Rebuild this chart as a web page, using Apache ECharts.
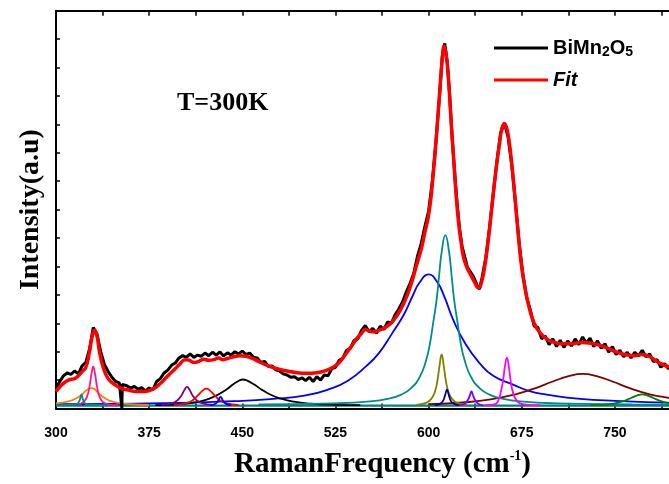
<!DOCTYPE html>
<html>
<head>
<meta charset="utf-8">
<title>Raman spectrum BiMn2O5</title>
<script src="https://cdn.jsdelivr.net/npm/echarts@6/dist/echarts.min.js"></script>
<style>
	html, body { margin: 0; padding: 0; background: #fff; overflow: hidden; }
	#ramanChart { width: 680px; height: 484px; }
</style>
</head>
<body>
<div id="ramanChart"></div>
<script>
// tick labels on the frequency axis
var xTicks = [300, 375, 450, 525, 600, 675, 750];

// measured spectrum (black)
var measured = [
	[300,0.70],[303,0.95],[306,1.15],[309,1.25],[312,1.20],[315,1.32],[318,1.22],[321,1.50],[324,1.62],[327,2.10],
	[330,2.85],[333,2.62],[336,2.00],[339,1.55],[342,1.30],[345,1.10],[348,0.95],[351,0.90],[352.6,0.88],[353,0.02],
	[353.4,0.85],[357,0.80],[360,0.72],[363,0.78],[366,0.68],[369,0.73],[372,0.62],[375,0.72],[378,0.66],[381,0.95],
	[384,1.05],[387,1.25],[390,1.35],[393,1.52],[396,1.60],[399,1.78],[402,1.86],[405,1.80],[408,1.92],[411,1.80],
	[414,1.88],[417,1.84],[420,1.95],[423,1.86],[426,1.98],[429,1.88],[432,1.99],[435,1.85],[438,1.96],[441,1.88],
	[444,2.00],[447,1.92],[450,2.02],[453,1.90],[456,1.95],[459,1.80],[462,1.78],[465,1.62],[468,1.66],[471,1.48],
	[474,1.50],[477,1.36],[480,1.32],[483,1.22],[486,1.18],[489,1.10],[492,1.12],[495,1.02],[498,1.08],[501,0.98],
	[504,1.10],[507,0.95],[510,1.12],[513,1.00],[516,1.18],[519,1.15],[522,1.40],[525,1.45],[528,1.70],[531,1.78],
	[534,2.05],[537,2.12],[540,2.40],[543,2.45],[546,2.75],[549,2.92],[552,2.70],[555,2.82],[558,2.65],[561,2.90],
	[564,2.78],[567,3.05],[570,3.00],[573,3.30],[576,3.50],[579,3.75],[582,4.10],[585,4.40],[588,4.75],[591,5.35],
	[594,5.80],[597,6.40],[600,6.95],[603,8.00],[606,9.45],[609,11.10],[611,12.40],[613,12.85],[615,12.20],[617,11.00],
	[619,9.50],[621,8.30],[623,7.20],[625,6.30],[627,5.70],[629,5.35],[630,5.20],[631,5.00],[633,4.85],[636,4.65],
	[639,4.35],[641,4.20],[643,4.60],[646,5.30],[649,6.35],[652,7.55],[655,8.70],[658,9.70],[661,10.05],[664,9.55],
	[667,8.55],[670,7.20],[673,5.80],[676,4.70],[679,3.90],[682,3.45],[685,2.90],[688,2.85],[691,2.45],[694,2.55],
	[697,2.25],[700,2.45],[703,2.18],[706,2.40],[709,2.15],[712,2.38],[715,2.20],[718,2.45],[721,2.25],[724,2.52],
	[727,2.30],[730,2.48],[733,2.18],[736,2.38],[739,2.12],[742,2.28],[745,1.98],[748,2.18],[751,1.90],[754,2.05],
	[757,1.82],[760,1.98],[763,1.78],[766,1.98],[769,1.85],[772,2.05],[775,1.82],[778,1.92],[781,1.65],[784,1.72],
	[787,1.45],[790,1.58],[793,1.40],[796,1.50]
];

// cumulative fit (red)
var fitCurve = [
	[300,0.60],[305,0.85],[310,1.00],[315,1.05],[318,1.15],[321,1.30],[324,1.45],[327,2.00],[329,2.50],[331,2.75],
	[333,2.55],[335,2.00],[338,1.45],[342,1.05],[347,0.85],[352,0.72],[358,0.65],[365,0.60],[372,0.60],[378,0.68],
	[384,0.88],[390,1.15],[396,1.40],[400,1.58],[404,1.72],[407,1.70],[411,1.62],[415,1.66],[419,1.73],[423,1.70],
	[427,1.72],[431,1.78],[434,1.72],[438,1.76],[443,1.82],[448,1.86],[453,1.84],[458,1.76],[463,1.66],[470,1.52],
	[478,1.40],[486,1.32],[494,1.26],[502,1.24],[510,1.26],[517,1.33],[523,1.45],[528,1.62],[533,1.90],[538,2.20],
	[542,2.45],[546,2.65],[549,2.78],[552,2.73],[556,2.70],[560,2.75],[565,2.85],[570,3.02],[575,3.30],[580,3.70],
	[585,4.25],[590,5.00],[594,5.60],[597,6.20],[600,6.80],[603,7.90],[606,9.40],[609,11.20],[611,12.30],[612.5,12.75],
	[614,12.50],[616,11.60],[618,10.20],[620,8.90],[622,7.60],[624,6.60],[626,5.90],[628,5.35],[631,4.95],[634,4.70],
	[637,4.45],[640,4.25],[642,4.35],[645,4.95],[648,5.90],[651,7.10],[654,8.30],[657,9.30],[659,9.85],[661,10.02],
	[663,9.85],[665,9.35],[667,8.60],[669,7.70],[671,6.70],[673,5.75],[675,4.95],[678,4.15],[681,3.55],[685,3.00],
	[690,2.65],[695,2.45],[700,2.35],[706,2.28],[712,2.28],[718,2.30],[724,2.32],[730,2.30],[736,2.25],[742,2.16],
	[748,2.05],[754,1.95],[760,1.88],[766,1.86],[771,1.90],[775,1.88],[779,1.80],[783,1.68],[787,1.58],[791,1.50],
	[796,1.45]
];

// fitted components
var baseLine = [[300,0.10],[800,0.10]];
var comp320 = [[300,0.12],[316,0.14],[318,0.20],[319.5,0.35],[320.5,0.50],[321.5,0.35],[323,0.20],[325,0.14],[340,0.12]];
var comp328 = [[300,0.18],[310,0.25],[316,0.35],[320,0.46],[324,0.62],[327,0.71],[328.5,0.72],[331,0.68],[334,0.55],[338,0.40],[343,0.28],[350,0.20],[360,0.15],[375,0.13]];
var comp330 = [[318,0.14],[322,0.22],[325,0.42],[327,0.78],[328.5,1.20],[330,1.47],[331.5,1.20],[333,0.78],[335,0.42],[338,0.22],[343,0.14],[350,0.12]];
var comp405 = [[385,0.13],[393,0.18],[398,0.30],[401,0.46],[403.5,0.66],[405.5,0.76],[407.5,0.66],[410,0.46],[413,0.30],[418,0.18],[426,0.13]];
var comp421 = [[395,0.13],[405,0.19],[410,0.29],[414,0.45],[418,0.63],[421,0.70],[424,0.63],[428,0.45],[432,0.29],[437,0.19],[447,0.13]];
var comp432 = [[424,0.12],[428,0.16],[430.5,0.27],[432.5,0.41],[434.5,0.27],[437,0.16],[441,0.12]];
var comp450 = [[380,0.12],[390,0.13],[405,0.17],[415,0.24],[423,0.34],[430,0.48],[437,0.66],[443,0.86],[447,0.97],[450.5,1.02],[454,0.98],[459,0.86],[465,0.68],[472,0.50],[480,0.36],[490,0.25],[505,0.17],[525,0.13],[545,0.12]];
var comp600 = [[300,0.15],[400,0.20],[450,0.27],[475,0.34],[500,0.45],[520,0.68],[535,0.98],[550,1.50],[560,1.95],[570,2.60],[580,3.30],[587,3.95],[593,4.45],[600,4.72],[607,4.45],[613,3.90],[620,3.10],[630,2.25],[641,1.60],[652,1.15],[668,0.84],[682,0.60],[695,0.49],[722,0.34],[750,0.27],[800,0.20]];
var comp610 = [[590,0.13],[598,0.20],[602,0.33],[605,0.58],[607,0.95],[608.8,1.50],[610.5,1.90],[612.2,1.50],[614,0.95],[616,0.58],[619,0.33],[623,0.20],[631,0.13]];
var comp613 = [[463,0.14],[523,0.18],[553,0.25],[568,0.35],[578,0.49],[586,0.72],[593,1.12],[598,1.70],[601,2.27],[604,3.11],[606.5,3.85],[608.5,4.69],[610.5,5.50],[613.5,6.10],[616.5,5.50],[618.5,4.69],[620.5,3.85],[623,3.11],[626,2.27],[629,1.70],[634,1.12],[641,0.72],[649,0.49],[659,0.35],[674,0.25],[704,0.18],[764,0.14],[800,0.13]];
var comp615 = [[605,0.12],[609,0.16],[611.5,0.26],[613.3,0.47],[614.8,0.66],[616.3,0.47],[618,0.26],[620.5,0.16],[625,0.12]];
var comp635 = [[625,0.12],[629,0.17],[631.5,0.29],[633.2,0.46],[634.5,0.60],[635.8,0.46],[637.5,0.29],[640,0.17],[644,0.12]];
var comp663 = [[645,0.12],[650,0.13],[654,0.16],[656,0.27],[658,0.55],[660,1.00],[661.5,1.50],[663,1.78],[664.5,1.50],[666,1.00],[668,0.55],[671,0.27],[675,0.16],[680,0.13],[690,0.12]];
var comp724 = [[600,0.15],[630,0.22],[650,0.32],[670,0.50],[685,0.70],[700,0.95],[712,1.13],[724,1.22],[736,1.13],[748,0.95],[763,0.70],[778,0.50],[795,0.36],[800,0.33]];
var comp772 = [[730,0.12],[740,0.13],[750,0.18],[757,0.26],[763,0.37],[768,0.46],[772,0.50],[776,0.46],[781,0.37],[787,0.26],[794,0.18],[800,0.15]];

$ = function (id) { return document.getElementById(id); };

// the chart is a little wider than the window: the right edge of the frame is cut off, as in the original
var ramanChart = echarts.init($('ramanChart'));

var components = [
	{ data: baseLine, color: '#008080', width: 2.2 },
	{ data: comp600, color: '#0000ff' },
	{ data: comp724, color: '#800000' },
	{ data: comp450, color: '#000000' },
	{ data: comp328, color: '#ff8000' },
	{ data: comp330, color: '#ff1493' },
	{ data: comp320, color: '#008b8b' },
	{ data: comp405, color: '#800080' },
	{ data: comp421, color: '#ff0000' },
	{ data: comp432, color: '#0000ff' },
	{ data: comp613, color: '#008b8b' },
	{ data: comp610, color: '#808000' },
	{ data: comp615, color: '#00009c' },
	{ data: comp635, color: '#8000ff' },
	{ data: comp663, color: '#ff00ff' },
	{ data: comp772, color: '#008000' }
];

var seriesList = components.map(function (c, i) {
	return {
		name: 'comp' + i,
		type: 'line',
		data: c.data,
		symbol: 'none',
		smooth: true,
		silent: true,
		lineStyle: { color: c.color, width: c.width || 1.8 }
	};
});

seriesList.push({
	name: 'BiMn2O5',
	type: 'line',
	data: measured,
	symbol: 'none',
	color: '#000',
	lineStyle: { color: '#000', width: 3 }
});

seriesList.push({
	name: 'Fit',
	type: 'line',
	data: fitCurve,
	symbol: 'none',
	smooth: true,
	color: '#ff0000',
	lineStyle: { color: '#ff0000', width: 3.5 }
});

var tickStyle = {
	show: true,
	inside: true,
	length: 5,
	lineStyle: { color: '#000', width: 1.5 }
};

var ramanOption = {
	animation: false,
	backgroundColor: '#fff',
	title: {
		text: 'T=300K',
		left: 172,
		top: 85,
		textStyle: {
			fontFamily: 'Liberation Serif',
			fontWeight: 'bold',
			fontSize: 26,
			color: '#000'
		}
	},
	legend: {
		data: [
			{ name: 'BiMn2O5', icon: 'rect', itemStyle: { color: '#000' } },
			{ name: 'Fit', icon: 'rect', itemStyle: { color: '#ff0000' } }
		],
		orient: 'vertical',
		left: 489,
		top: 33,
		itemWidth: 54,
		itemHeight: 3,
		itemGap: 11,
		formatter: function (name) {
			return name === 'Fit' ? '{i|Fit}' : '{b|BiMn}{s|2}{b|O}{s|5}';
		},
		textStyle: {
			color: '#000',
			rich: {
				b: { fontFamily: 'Liberation Sans', fontWeight: 'bold', fontSize: 20, lineHeight: 22, color: '#000' },
				s: { fontFamily: 'Liberation Sans', fontWeight: 'bold', fontSize: 14, lineHeight: 22, verticalAlign: 'bottom', color: '#000' },
				i: { fontFamily: 'Liberation Sans', fontWeight: 'bold', fontStyle: 'italic', fontSize: 20, lineHeight: 22, color: '#000' }
			}
		}
	},
	grid: {
		left: 56,
		right: 2,
		top: 10.7,
		bottom: 71.5
	},
	xAxis: [{
		type: 'value',
		min: 300,
		max: 800,
		interval: 75,
		name: '{n|RamanFrequency (cm}{sup|-1}{n|)}',
		nameLocation: 'middle',
		nameGap: 41,
		nameTextStyle: {
			padding: [0, 0, 0, 32],
			rich: {
				n: { fontFamily: 'Liberation Serif', fontWeight: 'bold', fontSize: 29, lineHeight: 30, color: '#000' },
				sup: { fontFamily: 'Liberation Serif', fontWeight: 'bold', fontSize: 14, lineHeight: 30, verticalAlign: 'top', color: '#000' }
			}
		},
		axisLine: { show: true, onZero: false, lineStyle: { color: '#000', width: 2 } },
		axisTick: tickStyle,
		minorTick: { show: true, splitNumber: 2, length: 5, lineStyle: { color: '#000', width: 1.5 } },
		splitLine: { show: false },
		axisLabel: {
			margin: 18,
			fontFamily: 'Liberation Sans',
			fontWeight: 'bold',
			fontSize: 14,
			color: '#000',
			formatter: function (v) {
				return xTicks.indexOf(v) >= 0 ? String(v) : '';
			}
		}
	}, {
		type: 'value',
		position: 'top',
		min: 300,
		max: 800,
		interval: 75,
		axisLine: { show: true, onZero: false, lineStyle: { color: '#000', width: 2 } },
		axisTick: tickStyle,
		minorTick: { show: true, splitNumber: 2, length: 5, lineStyle: { color: '#000', width: 1.5 } },
		splitLine: { show: false },
		axisLabel: { show: false }
	}],
	yAxis: {
		type: 'value',
		min: 0,
		max: 14,
		interval: 1,
		name: 'Intensity(a.u)',
		nameLocation: 'middle',
		nameGap: 11,
		nameTextStyle: {
			fontFamily: 'Liberation Serif',
			fontWeight: 'bold',
			fontSize: 28,
			color: '#000'
		},
		axisLine: { show: true, onZero: false, lineStyle: { color: '#000', width: 2 } },
		axisTick: { show: true, inside: true, length: 4, lineStyle: { color: '#000', width: 1.5 } },
		splitLine: { show: false },
		axisLabel: { show: false }
	},
	series: seriesList
};

ramanChart.setOption(ramanOption);
</script>
</body>
</html>
